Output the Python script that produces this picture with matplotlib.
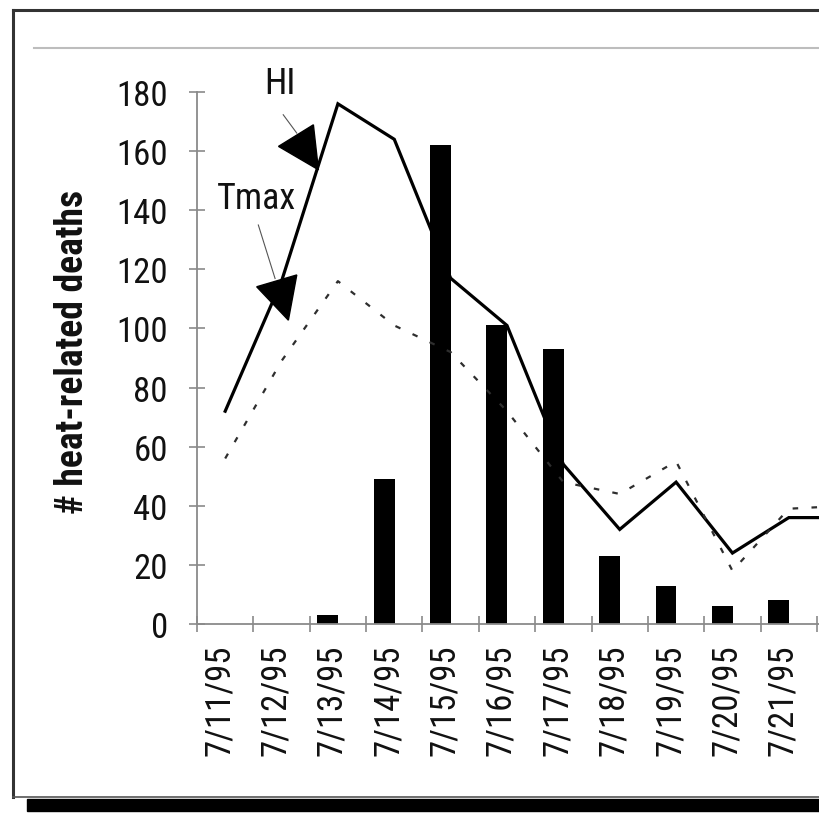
import matplotlib
matplotlib.use("Agg")
import matplotlib.pyplot as plt
import numpy as np
from matplotlib import font_manager
from matplotlib.patches import Polygon, Rectangle
from matplotlib.lines import Line2D
import matplotlib.transforms as mtransforms

# ---------------- data ----------------
dates = ["7/11/95", "7/12/95", "7/13/95", "7/14/95", "7/15/95", "7/16/95",
         "7/17/95", "7/18/95", "7/19/95", "7/20/95", "7/21/95", "7/22/95"]
deaths = [0, 0, 3, 49, 162, 101, 93, 23, 13, 6, 8, np.nan]
hi_line = [72, 116, 176, 164, 117, 101, 54, 32, 48, 24, 36, 36]
tmax_line = [56, 89, 116, 101, 92, 72, 48, 44, 55, 18, 39, 40]
yticks = [0, 20, 40, 60, 80, 100, 120, 140, 160, 180]

# ---------------- font choice (narrow if available) ----------------
ttf = font_manager.fontManager.ttflist
names = {f.name for f in ttf}
FONT, STRETCH, NARROW = "Liberation Sans", "normal", False
for cand in ("Roboto Condensed", "Liberation Sans Narrow", "Open Sans Condensed",
             "Noto Sans Condensed", "Arial Narrow", "DejaVu Sans Condensed"):
    if cand in names:
        FONT, NARROW = cand, True
        break
if not NARROW:
    for f in ttf:
        st = f.stretch
        cond = (isinstance(st, str) and "condensed" in st) or (isinstance(st, int) and st < 500)
        if cond and f.name in ("Roboto", "Noto Sans", "Open Sans", "DejaVu Sans", "Lato", "Inter"):
            FONT, STRETCH, NARROW = f.name, "condensed", True
            break
plt.rcParams["font.family"] = [FONT, "DejaVu Sans"]
plt.rcParams["font.stretch"] = STRETCH
FS = 25 if NARROW else 22

W = H = 820
fig = plt.figure(figsize=(8.2, 8.2), dpi=100)
fig.patch.set_facecolor("white")

# axes placement (pixels -> figure fraction); the chart is cropped at the right edge
x0, x1 = 197, 820
y_top, y_bot = 93, 625
ax = fig.add_axes([x0 / W, (H - y_bot) / H, (x1 - x0) / W, (y_bot - y_top) / H])

x = np.arange(len(dates))
ax.bar(x - 0.18, deaths, width=0.37, color="black", zorder=2)
ax.plot(x, hi_line, color="black", lw=2.3, zorder=3, solid_joinstyle="miter")
ax.plot(x, tmax_line, color="#2e2e2e", lw=1.6, dashes=(2.5, 6), zorder=3)

ax.set_yticks(yticks)
ax.set_yticklabels([str(v) for v in yticks])
ax.set_xticks(x)
ax.set_xticklabels(dates, rotation=90, va="top", ha="center")
ax.set_xticks(np.arange(-0.5, len(dates)), minor=True)
ax.set_xlim(-0.5, 10.5 + 3 / 56.3)
ax.set_ylim(0, 180)

gray = "#8a8a8a"
for s in ("top", "right"):
    ax.spines[s].set_visible(False)
for s in ("left", "bottom"):
    ax.spines[s].set_color(gray)
    ax.spines[s].set_linewidth(1.3)

ax.tick_params(axis="y", direction="inout", length=12, width=1.2, color=gray,
               labelsize=FS, pad=15, labelcolor="#111111")
ax.tick_params(axis="x", which="major", length=0, labelsize=FS, pad=14,
               labelcolor="#111111")
ax.tick_params(axis="x", which="minor", direction="inout", length=12, width=1.2,
               color=gray)

offset = mtransforms.ScaledTranslation(-6 / 100, 0, fig.dpi_scale_trans)
for lab in ax.get_xticklabels():
    lab.set_transform(lab.get_transform() + offset)

ax.set_ylabel("# heat-related deaths", fontsize=FS + 2, fontweight="bold", color="#111111")
ax.yaxis.set_label_coords(-0.17, 0.513)

# annotations
ax.text(0.98, 183, "HI", fontsize=FS + 1, ha="center", va="center", color="#111111",
        clip_on=False)
ax.text(0.56, 144, "Tmax", fontsize=FS + 1, ha="center", va="center", color="#111111",
        clip_on=False)
ax.add_line(Line2D([1.03, 1.27], [172.3, 166.1], color="#555555", lw=0.8, clip_on=False))
ax.add_patch(Polygon([[0.946, 161.6], [1.565, 168.9], [1.654, 153.7]], closed=True,
                     color="black", clip_on=False, zorder=4))
ax.add_line(Line2D([0.588, 0.885], [135.0, 116.9], color="#555555", lw=0.8, clip_on=False))
ax.add_patch(Polygon([[0.559, 114.1], [1.27, 118.1], [1.121, 102.8]], closed=True,
                     color="black", clip_on=False, zorder=4))

# frame decorations (figure pixels)
def fx(px):
    return px / W

def fy(py):
    return (H - py) / H

fig.add_artist(Line2D([fx(13), fx(13)], [fy(11), fy(798)], color="#333333", lw=2.2))
fig.add_artist(Line2D([fx(13), fx(825)], [fy(11), fy(11)], color="#333333", lw=2.2))
fig.add_artist(Line2D([fx(13), fx(825)], [fy(798), fy(798)], color="#555555", lw=1.2))
fig.add_artist(Line2D([fx(34), fx(825)], [fy(49), fy(49)], color="#bdbdbd", lw=1.5))
fig.add_artist(Rectangle((fx(27), fy(812)), 1.0, (812 - 800) / H, transform=fig.transFigure,
                         color="black"))

fig.savefig("out.png", dpi=100)
